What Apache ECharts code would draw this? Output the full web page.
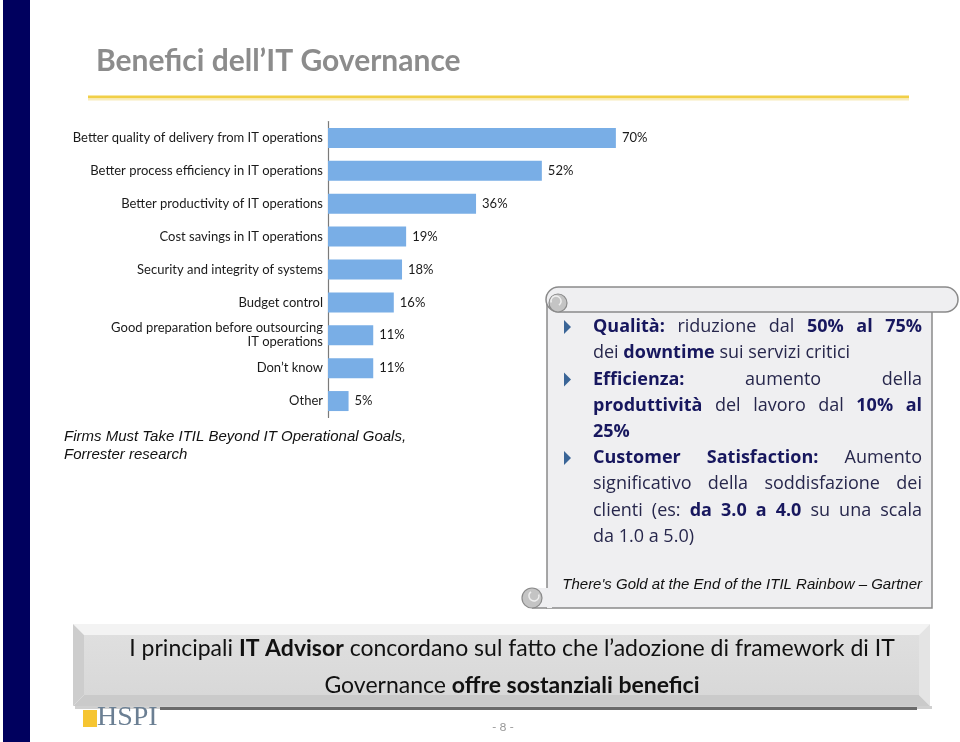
<!DOCTYPE html>
<html><head><meta charset="utf-8">
<script src="https://cdn.jsdelivr.net/npm/echarts@6/dist/echarts.min.js"></script>
<style>html,body{margin:0;padding:0;background:#fff}#c{width:960px;height:742px}</style>
</head><body><div id="c"></div>
<script>
var categories = ['Better quality of delivery from IT operations','Better process efficiency in IT operations','Better productivity of IT operations','Cost savings in IT operations','Security and integrity of systems','Budget control','Good preparation before outsourcing\nIT operations','Don\u2019t know','Other'];
var values = [70, 52, 36, 19, 18, 16, 11, 11, 5];
var titleText = 'Benefici dell\u2019IT Governance';
var sourceLeft = ['Firms Must Take ITIL Beyond IT Operational Goals,', 'Forrester research'];
var sourceRight = 'There\'s Gold at the End of the ITIL Rainbow \u2013 Gartner';
// scroll lines: segments [text, bold], justify flag, bullet flag
var scrollLines = [
  {segs:[['Qualit\u00e0:',1],['riduzione dal',0],['50% al 75%',1]], j:1, b:1},
  {segs:[['dei',0],['downtime',1],['sui servizi critici',0]], j:0, b:0},
  {segs:[['Efficienza:',1],['aumento della',0]], j:1, b:1},
  {segs:[['produttivit\u00e0',1],['del lavoro dal',0],['10% al',1]], j:1, b:0},
  {segs:[['25%',1]], j:0, b:0},
  {segs:[['Customer Satisfaction:',1],['Aumento',0]], j:1, b:1},
  {segs:[['significativo della soddisfazione dei',0]], j:1, b:0},
  {segs:[['clienti (es:',0],['da 3.0 a 4.0',1],['su una scala',0]], j:1, b:0},
  {segs:[['da 1.0 a 5.0)',0]], j:0, b:0}
];
var bottomLine1 = [['I principali ',0],['IT Advisor',1],[' concordano sul fatto che l\u2019adozione di framework di IT',0]];
var bottomLine2 = [['Governance ',0],['offre sostanziali benefici',1]];

var chart = echarts.init(document.getElementById('c'), null, {renderer:'canvas'});
var ctx = document.createElement('canvas').getContext('2d');
function measure(t, font){ ctx.font = font; return ctx.measureText(t).width; }

var FF = 'Lato, "Open Sans", sans-serif';
var SF = '"Open Sans", Lato, sans-serif';
var SZ = 18;
var elems = [];

// left navy band
elems.push({type:'rect', shape:{x:3,y:0,width:27,height:742}, style:{fill:'#00005e'}, z:1});
// title
elems.push({type:'text', x:96, y:61, style:{text:titleText, font:'bold 30px '+FF, fill:'#8c8c8c', textVerticalAlign:'middle'}, z:5});
elems.push({type:'rect', shape:{x:88,y:95.5,width:821,height:3}, style:{fill:'#f1cf47'}, z:5});
elems.push({type:'rect', shape:{x:88,y:98.5,width:821,height:2}, style:{fill:'#f8ecbc'}, z:5});

// left source
elems.push({type:'text', x:64, y:437, style:{text:sourceLeft[0], font:'italic 15px "Liberation Sans", Arial, sans-serif', fill:'#111', textVerticalAlign:'middle'}, z:5});
elems.push({type:'text', x:64, y:455, style:{text:sourceLeft[1], font:'italic 15px "Liberation Sans", Arial, sans-serif', fill:'#111', textVerticalAlign:'middle'}, z:5});

// scroll
var sFill = '#efeff1', sStroke = '#8a8a8a';
elems.push({type:'rect', shape:{x:547,y:300,width:385,height:308}, style:{fill:sFill, stroke:sStroke, lineWidth:1.5}, z:3});
elems.push({type:'rect', shape:{x:532,y:588,width:20,height:20}, style:{fill:sFill, stroke:null}, z:3});
elems.push({type:'line', shape:{x1:532,y1:608,x2:547,y2:608}, style:{stroke:sStroke, lineWidth:1.5}, z:3});
elems.push({type:'circle', shape:{cx:532,cy:598,r:10}, style:{fill:'#c4c4c4', stroke:sStroke, lineWidth:1.2}, z:4});
elems.push({type:'arc', shape:{cx:534,cy:596,r:5,startAngle:-Math.PI*0.1,endAngle:Math.PI*1.3}, style:{stroke:'#efefef', lineWidth:1.5, fill:null}, z:4});
elems.push({type:'rect', shape:{x:546,y:287,width:412,height:25,r:12.5}, style:{fill:sFill, stroke:sStroke, lineWidth:1.5}, z:4});
elems.push({type:'circle', shape:{cx:558,cy:303,r:9}, style:{fill:'#c4c4c4', stroke:sStroke, lineWidth:1.2}, z:5});
elems.push({type:'arc', shape:{cx:556,cy:301,r:5,startAngle:Math.PI*0.9,endAngle:Math.PI*2.3}, style:{stroke:'#efefef', lineWidth:1.5, fill:null}, z:5});

// scroll text, justified
var X0 = 593, X1 = 922, Y0 = 327, LH = 26.2;
var cBold = '#17175e', cNorm = '#27274c';
scrollLines.forEach(function(line, i){
  var y = Y0 + i*LH;
  var words = [];
  line.segs.forEach(function(s){
    s[0].split(' ').forEach(function(w){ if(w) words.push({t:w, b:s[1]}); });
  });
  var total = 0;
  words.forEach(function(w){
    w.font = (w.b ? 'bold ' : '') + SZ + 'px ' + SF;
    w.w = measure(w.t, w.font); total += w.w;
  });
  var gap = line.j && words.length>1 ? (X1 - X0 - total)/(words.length-1) : measure(' ', SZ+'px '+SF);
  var x = X0;
  words.forEach(function(w){
    elems.push({type:'text', x:x, y:y, style:{text:w.t, font:w.font, fill:w.b?cBold:cNorm, textVerticalAlign:'middle'}, z:6});
    x += w.w + gap;
  });
  if (line.b) {
    elems.push({type:'polygon', shape:{points:[[564,y-7],[564,y+7],[571,y]]}, style:{fill:'#3a6597'}, z:6});
  }
});
elems.push({type:'text', x:922, y:585, style:{text:sourceRight, font:'italic 15px "Liberation Sans", Arial, sans-serif', fill:'#111', textAlign:'right', textVerticalAlign:'middle'}, z:6});

// bottom bevel box
var bx0=73, by0=624, bx1=930, by1=706, bi=11;
elems.push({type:'rect', shape:{x:bx0+2,y:by1,width:bx1-bx0,height:3}, style:{fill:'#d0d0d0'}, z:2});
elems.push({type:'polygon', shape:{points:[[bx0,by0],[bx1,by0],[bx1-bi,by0+bi],[bx0+bi,by0+bi]]}, style:{fill:'#f3f3f3'}, z:3});
elems.push({type:'polygon', shape:{points:[[bx0,by0],[bx0+bi,by0+bi],[bx0+bi,by1-bi],[bx0,by1]]}, style:{fill:'#cdcdcd'}, z:3});
elems.push({type:'polygon', shape:{points:[[bx1,by0],[bx1,by1],[bx1-bi,by1-bi],[bx1-bi,by0+bi]]}, style:{fill:'#e4e4e4'}, z:3});
elems.push({type:'polygon', shape:{points:[[bx0,by1],[bx0+bi,by1-bi],[bx1-bi,by1-bi],[bx1,by1]]}, style:{fill:'#cacaca'}, z:3});
elems.push({type:'rect', shape:{x:bx0+bi,y:by0+bi,width:bx1-bx0-2*bi,height:by1-by0-2*bi}, style:{fill:{type:'linear',x:0,y:0,x2:0,y2:1,colorStops:[{offset:0,color:'#dfdfdf'},{offset:1,color:'#d8d8d8'}]}}, z:3});
function richLine(segs, cx, y, size){
  var parts = segs.map(function(s){ return {t:s[0], font:(s[1]?'bold ':'')+size+'px '+FF, b:s[1]}; });
  var tw = 0; parts.forEach(function(p){ p.w = measure(p.t, p.font); tw += p.w; });
  var x = cx - tw/2;
  parts.forEach(function(p){
    elems.push({type:'text', x:x, y:y, style:{text:p.t, font:p.font, fill:'#111', textVerticalAlign:'middle'}, z:6});
    x += p.w;
  });
}
richLine(bottomLine1, 512, 649, 23);
richLine(bottomLine2, 512, 686, 23);

// footer
elems.push({type:'rect', shape:{x:160,y:707,width:757,height:3}, style:{fill:'#6a6a6a'}, z:2});
elems.push({type:'rect', shape:{x:83,y:710,width:14,height:17}, style:{fill:'#f6c531'}, z:5});
elems.push({type:'text', x:97, y:718, style:{text:'HSPI', font:'28px "Liberation Serif", serif', fill:'#6b7f93', textVerticalAlign:'middle'}, z:5});
elems.push({type:'text', x:503, y:727, style:{text:'- 8 -', font:'12px '+FF, fill:'#999', textAlign:'center', textVerticalAlign:'middle'}, z:5});

var option = {
  animation:false,
  backgroundColor:'#ffffff',
  grid:{left:328, top:121.5, width:329, height:296, containLabel:false},
  xAxis:{type:'value', min:0, max:80, show:false},
  yAxis:{type:'category', data:categories, inverse:true,
    axisLine:{lineStyle:{color:'#7a7a7a', width:1.2}}, axisTick:{show:false},
    axisLabel:{color:'#1a1a1a', fontSize:13, fontFamily:FF, margin:5, lineHeight:14, align:'right'}},
  series:[{type:'bar', data:values, barWidth:20,
    itemStyle:{color:'#79aee6'},
    label:{show:true, position:'right', distance:6, formatter:'{c}%', color:'#1a1a1a', fontSize:13, fontFamily:FF}}],
  graphic:{elements:elems}
};
chart.setOption(option);
</script></body></html>
